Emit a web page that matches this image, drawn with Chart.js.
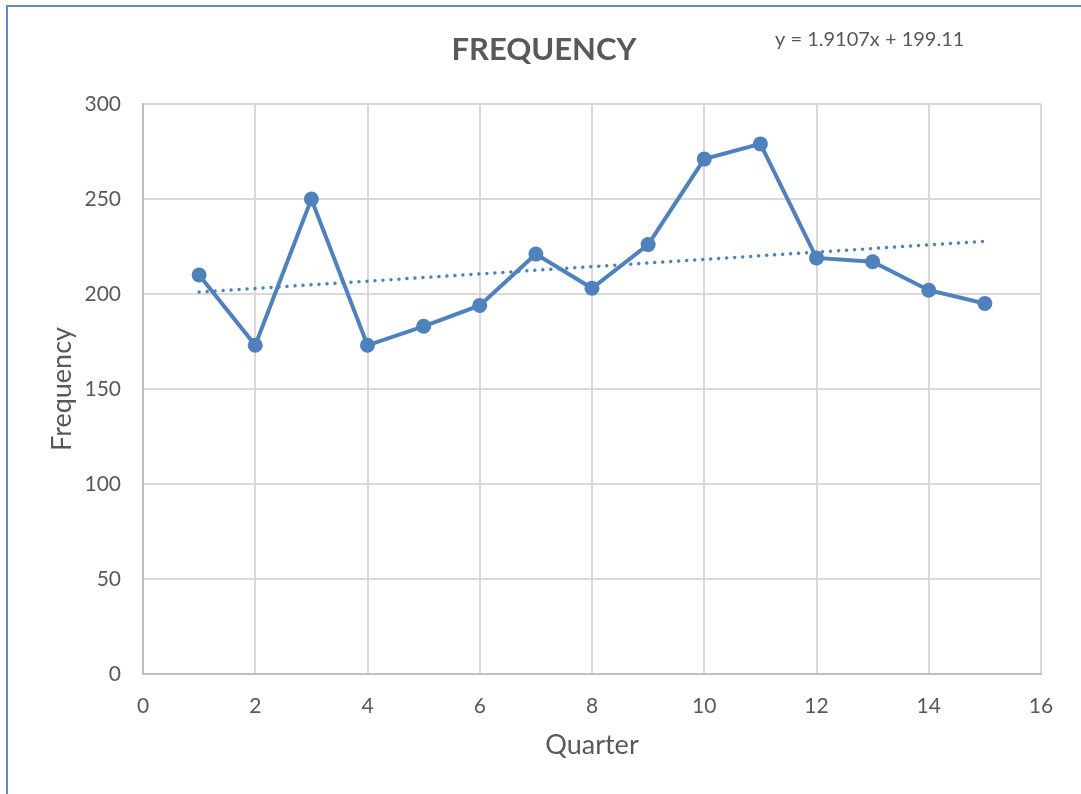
<!DOCTYPE html>
<html>
<head>
<meta charset="utf-8">
<title>Frequency</title>
<script src="https://cdn.jsdelivr.net/npm/chart.js@4.4.1/dist/chart.umd.min.js"></script>
<style>
  html, body { margin: 0; padding: 0; background: #ffffff; overflow: hidden; }
  #wrap { position: relative; width: 1081px; height: 794px; }
  #frame {
    position: absolute; left: 6px; top: 5px; width: 1200px; height: 900px;
    border-left: 2px solid #5b8bc9; border-top: 2px solid #5b8bc9;
    pointer-events: none;
  }
  canvas { display: block; }
</style>
</head>
<body>
<div id="wrap">
  <canvas id="chart" width="1081" height="794"></canvas>
  <div id="frame"></div>
</div>
<script>
// Quarterly frequency readings
const quarters = [1, 2, 3, 4, 5, 6, 7, 8, 9, 10, 11, 12, 13, 14, 15];
const frequency = [210, 173, 250, 173, 183, 194, 221, 203, 226, 271, 279, 219, 217, 202, 195];

// Linear trend line coefficients (y = slope * x + intercept)
const trendSlope = 1.9107;
const trendIntercept = 199.11;

// Axis tick settings
const xTicks = [0, 2, 4, 6, 8, 10, 12, 14, 16];
const yTicks = [0, 50, 100, 150, 200, 250, 300];

const chartTitle = 'FREQUENCY';
const xTitle = 'Quarter';
const yTitle = 'Frequency';
const equationText = 'y = ' + trendSlope + 'x + ' + trendIntercept;

const seriesPoints = quarters.map((q, i) => ({ x: q, y: frequency[i] }));
const trendEnds = [quarters[0], quarters[quarters.length - 1]];
const trendPoints = trendEnds.map(q => ({ x: q, y: trendSlope * q + trendIntercept }));

const FONT = 'Lato, "Open Sans", "Liberation Sans", sans-serif';
const BLUE = '#4f81bd';
const TEXT = '#595959';

// Chart heading and regression equation
const headingPlugin = {
  id: 'heading',
  afterDraw(chart) {
    const ctx = chart.ctx;
    ctx.save();
    ctx.fillStyle = TEXT;
    ctx.textBaseline = 'middle';
    ctx.textAlign = 'center';
    ctx.font = 'bold 31px ' + FONT;
    ctx.fillText(chartTitle, 544, 50);
    ctx.textAlign = 'left';
    ctx.font = '20px ' + FONT;
    ctx.fillText(equationText, 775, 40);
    ctx.restore();
  }
};

new Chart(document.getElementById('chart'), {
  type: 'scatter',
  data: {
    datasets: [
      {
        label: 'Frequency',
        data: seriesPoints,
        showLine: true,
        borderColor: BLUE,
        borderWidth: 4,
        backgroundColor: BLUE,
        pointBackgroundColor: BLUE,
        pointBorderWidth: 0,
        pointRadius: 7.5,
        pointHoverRadius: 7.5,
        tension: 0,
        order: 1
      },
      {
        label: 'Linear (Frequency)',
        data: trendPoints,
        showLine: true,
        borderColor: BLUE,
        borderWidth: 3.5,
        borderDash: [0.01, 8],
        borderCapStyle: 'round',
        pointRadius: 0,
        pointHoverRadius: 0,
        order: 2
      }
    ]
  },
  options: {
    responsive: false,
    animation: false,
    events: [],
    layout: { padding: { top: 104, right: 40, left: 0, bottom: 0 } },
    plugins: {
      legend: { display: false },
      tooltip: { enabled: false },
      title: { display: false }
    },
    scales: {
      x: {
        type: 'linear',
        min: xTicks[0],
        max: xTicks[xTicks.length - 1],
        afterBuildTicks(scale) { scale.ticks = xTicks.map(v => ({ value: v })); },
        afterFit(scale) { scale.height = 120; },
        grid: { color: '#d9d9d9', lineWidth: 2, drawTicks: false },
        border: { color: '#bfbfbf', width: 2 },
        ticks: { color: TEXT, font: { family: FONT, size: 21 }, padding: 20 },
        title: {
          display: true, text: xTitle, color: TEXT,
          font: { family: FONT, size: 27 }, padding: { top: 0, bottom: 33 }
        }
      },
      y: {
        type: 'linear',
        min: yTicks[0],
        max: yTicks[yTicks.length - 1],
        afterBuildTicks(scale) { scale.ticks = yTicks.map(v => ({ value: v })); },
        afterFit(scale) { scale.width = 143; },
        grid: { color: '#d9d9d9', lineWidth: 2, drawTicks: false },
        border: { color: '#bfbfbf', width: 2 },
        ticks: { color: TEXT, font: { family: FONT, size: 21 }, padding: 22 },
        title: {
          display: true, text: yTitle, color: TEXT,
          font: { family: FONT, size: 27 }, padding: { top: 46, bottom: 0 }
        }
      }
    }
  },
  plugins: [headingPlugin]
});
</script>
</body>
</html>
